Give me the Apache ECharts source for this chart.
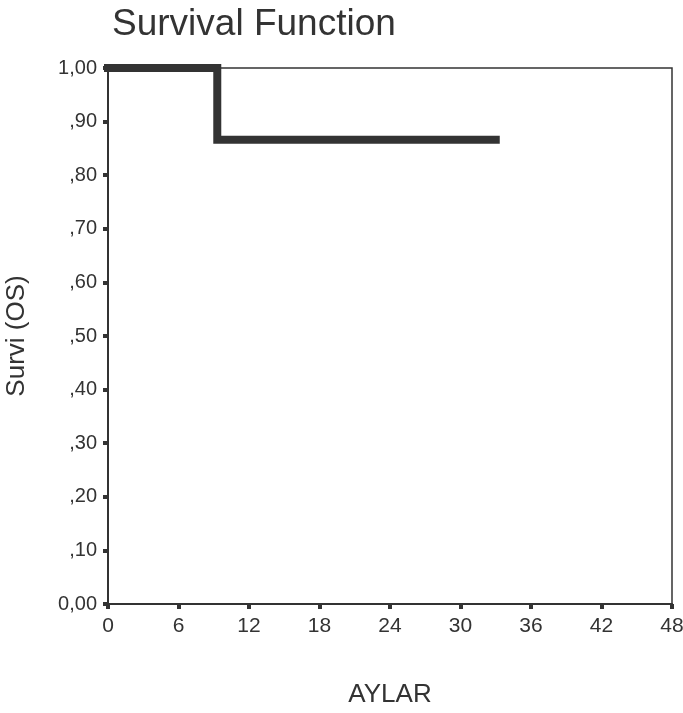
<!DOCTYPE html>
<html>
<head>
<meta charset="utf-8">
<script src="https://cdn.jsdelivr.net/npm/echarts@6/dist/echarts.min.js"></script>
<style>
    html, body { margin: 0; padding: 0; background: #fff; }
    #chart { width: 683px; height: 713px; }
</style>
</head>
<body>
<div id="chart"></div>
<script>
// Kaplan-Meier survival curve (OS)
var months = [0, 9.3, 33.0];
var survival = [1.0, 0.866, 0.866];
var xTicks = [0, 6, 12, 18, 24, 30, 36, 42, 48];
var yTickLabels = ['0,00', ',10', ',20', ',30', ',40', ',50', ',60', ',70', ',80', ',90', '1,00'];

var ink = '#333333';
var font = 'Liberation Sans, Arial, sans-serif';

var points = [];
for (var i = 0; i < months.length; i++) {
    points.push([months[i], survival[i]]);
}

var myChart = echarts.init(document.getElementById('chart'), null, { renderer: 'canvas' });

var option = {
    animation: false,
    title: {
        text: 'Survival Function',
        left: 107,
        top: 1,
        textStyle: { color: ink, fontFamily: font, fontSize: 37, fontWeight: 'normal' }
    },
    grid: {
        left: 108,
        right: 11,
        top: 68,
        bottom: 109,
        outerBoundsMode: 'none',
        containLabel: false,
        show: true,
        borderColor: ink,
        borderWidth: 1.5,
        backgroundColor: 'transparent'
    },
    xAxis: {
        type: 'value',
        min: 0,
        max: 48,
        interval: 6,
        name: 'AYLAR',
        nameLocation: 'middle',
        nameGap: 78,
        nameTextStyle: { color: ink, fontFamily: font, fontSize: 26 },
        axisLine: { show: true, onZero: false, lineStyle: { color: ink, width: 2 } },
        axisTick: { show: true, length: 5, lineStyle: { color: ink, width: 4 } },
        axisLabel: {
            color: ink, fontFamily: font, fontSize: 21, margin: 12,
            formatter: function(v) { return xTicks.indexOf(v) >= 0 ? String(v) : ''; }
        },
        splitLine: { show: false }
    },
    yAxis: {
        type: 'value',
        min: 0,
        max: 1,
        interval: 0.1,
        name: 'Survi (OS)',
        nameLocation: 'middle',
        nameGap: 78,
        nameRotate: 90,
        nameTextStyle: { color: ink, fontFamily: font, fontSize: 26 },
        axisLine: { show: true, onZero: false, lineStyle: { color: ink, width: 2 } },
        axisTick: { show: true, length: 5, lineStyle: { color: ink, width: 4 } },
        axisLabel: {
            color: ink, fontFamily: font, fontSize: 20, margin: 11,
            formatter: function(v) { return yTickLabels[Math.round(v * 10)]; }
        },
        splitLine: { show: false }
    },
    series: [{
        type: 'line',
        step: 'end',
        data: points,
        showSymbol: false,
        symbol: 'none',
        lineStyle: { color: ink, width: 8, cap: 'square', join: 'miter' }
    }]
};

myChart.setOption(option, true);
</script>
</body>
</html>
